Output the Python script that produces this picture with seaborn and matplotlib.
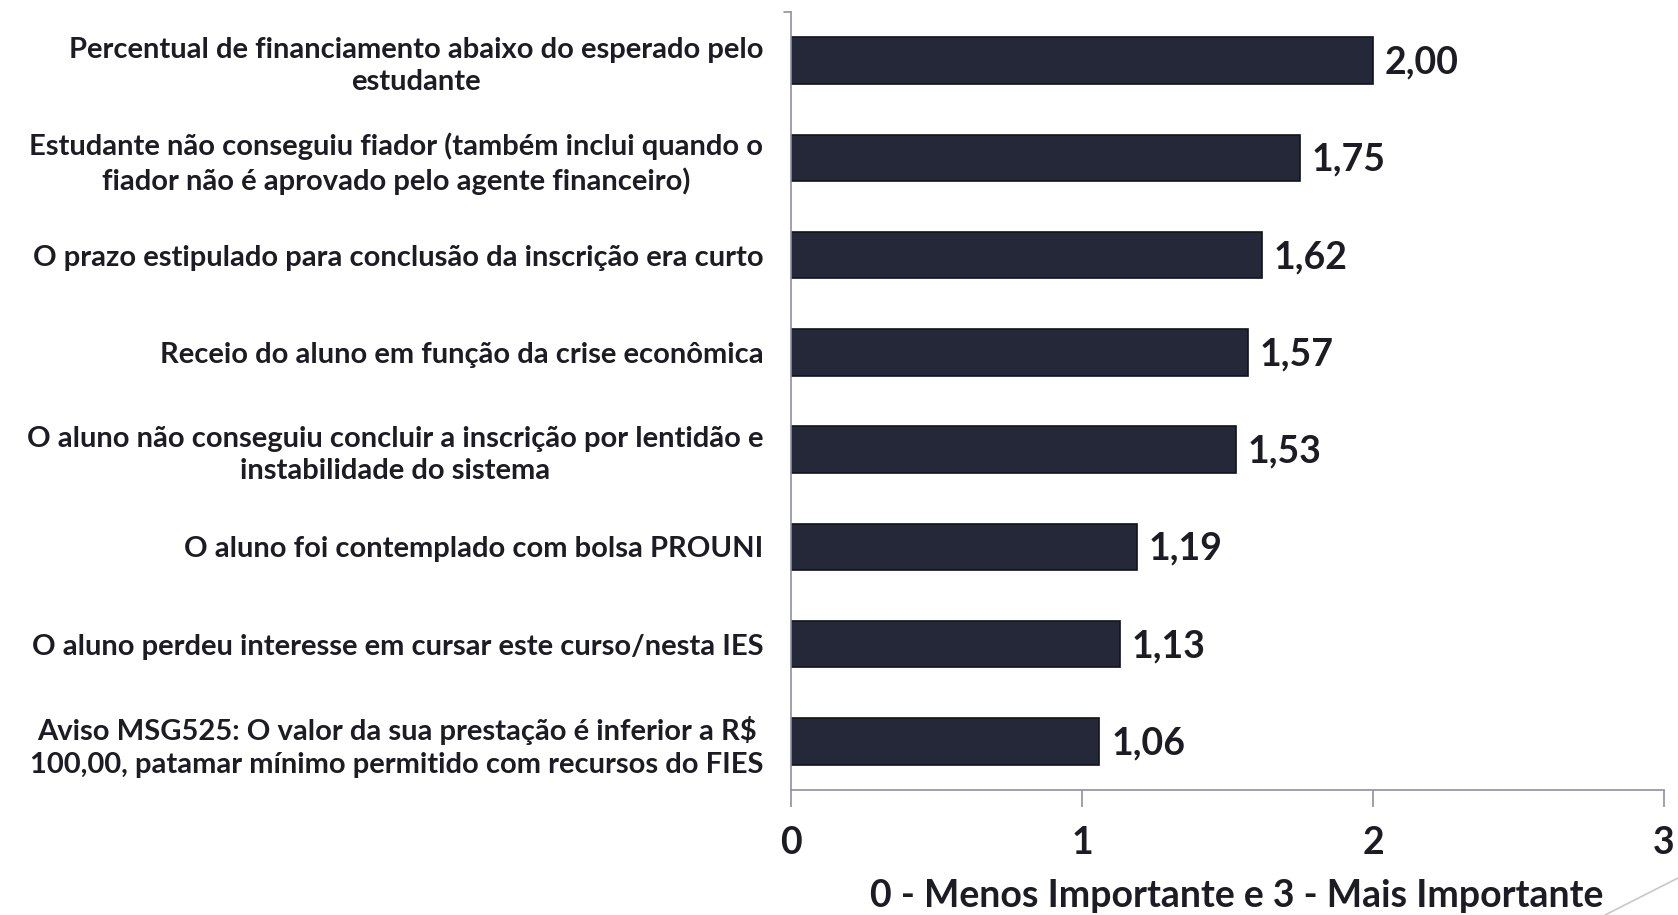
import matplotlib
matplotlib.use("Agg")
import matplotlib.pyplot as plt
import seaborn as sns
import pandas as pd
from matplotlib.lines import Line2D

categorias = [
    "Percentual de financiamento abaixo do esperado pelo\nestudante",
    "Estudante não conseguiu fiador (também inclui quando o\nfiador não é aprovado pelo agente financeiro)",
    "O prazo estipulado para conclusão da inscrição era curto",
    "Receio do aluno em função da crise econômica",
    "O aluno não conseguiu concluir a inscrição por lentidão e\ninstabilidade do sistema",
    "O aluno foi contemplado com bolsa PROUNI",
    "O aluno perdeu interesse em cursar este curso/nesta IES",
    "Aviso MSG525: O valor da sua prestação é inferior a R$\n100,00, patamar mínimo permitido com recursos do FIES",
]
valores = [2.00, 1.75, 1.62, 1.57, 1.53, 1.19, 1.13, 1.06]
xticks = [0, 1, 2, 3]
xlabel = "0 - Menos Importante e 3 - Mais Importante"

sns.set_theme(style="white")
plt.rcParams["font.family"] = ["Lato", "DejaVu Sans"]

df = pd.DataFrame({"cat": categorias, "val": valores})

fig = plt.figure(figsize=(16.78, 9.15), dpi=100)
ax = fig.add_axes([791 / 1678, 1 - 790 / 915, (1664 - 791) / 1678, (790 - 12) / 915])

sns.barplot(data=df, x="val", y="cat", orient="h", color="#252838",
            width=0.48, edgecolor="#11131c", linewidth=1.2, saturation=1, ax=ax)

for i, v in enumerate(valores):
    ax.text(v + 0.04, i + 0.02, f"{v:.2f}".replace(".", ","), va="center", ha="left",
            fontsize=27, fontweight="bold", color="#1c1c24")

ax.set_xlim(0, 3)
ax.set_ylim(7.5, -0.5)
ax.set_xticks(xticks)
ax.set_xticklabels([str(t) for t in xticks], fontsize=27, fontweight="bold", color="#1c1c24")
ax.set_xlabel(xlabel, fontsize=27, fontweight="bold", color="#1c1c24")
ax.xaxis.set_label_coords(0.511, -0.136)
ax.xaxis.label.set_va("center")
ax.set_ylabel("")
ax.tick_params(axis="x", direction="out", length=12, width=1.2, color="#8e91a0", pad=14, bottom=True)
ax.tick_params(axis="y", length=0, pad=20)
for lab in ax.get_yticklabels():
    lab.set_fontsize(21)
    lab.set_fontweight("bold")
    lab.set_color("#1c1c24")
    lab.set_multialignment("center")
    lab.set_linespacing(1.3)

for s in ["top", "right"]:
    ax.spines[s].set_visible(False)
for s in ["left", "bottom"]:
    ax.spines[s].set_color("#8e91a0")
    ax.spines[s].set_linewidth(1.2)

# small tick at top of the category axis
ax.plot([-0.025, 0], [-0.5, -0.5], color="#8e91a0", lw=1.2, clip_on=False)

# slide decoration in the corner
fig.add_artist(Line2D([1678 / 1678, 1605 / 1678], [1 - 878 / 915, 1 - 915 / 915],
                      color="#c8c8c8", lw=1.2, transform=fig.transFigure))

fig.savefig("out.png", dpi=100)
